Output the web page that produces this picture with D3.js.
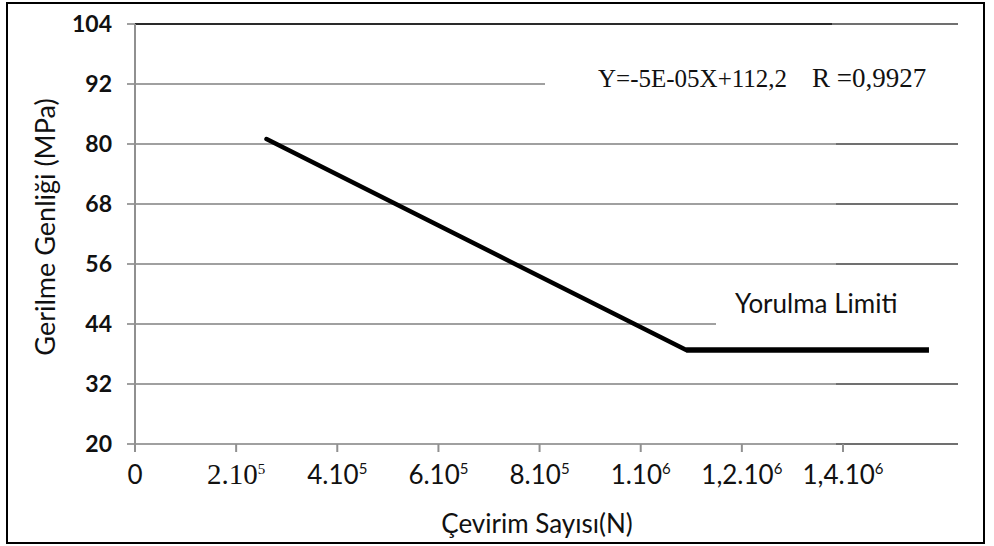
<!DOCTYPE html>
<html>
<head>
<meta charset="utf-8">
<script src="https://cdn.jsdelivr.net/npm/d3@7/dist/d3.min.js"></script>
<style>
body { margin: 0; background: #fff; }
</style>
</head>
<body>
<div id="chart"></div>
<script>
// values
var cycles = [260000, 1090000, 1570000]
var stress = [81, 38.8, 38.8]
var yTicks = [20, 32, 44, 56, 68, 80, 92, 104]
var xTicks = [0, 200000, 400000, 600000, 800000, 1000000, 1200000, 1400000]
var xTickBase = ["0", "2.10", "4.10", "6.10", "8.10", "1.10", "1,2.10", "1,4.10"]
var xTickExp = ["", "5", "5", "5", "5", "6", "6", "6"]
var equation = "Y=-5E-05X+112,2"
var rText = "R =0,9927"
var limitLabel = "Yorulma Limiti"
var xTitle = "Çevirim Sayısı(N)"
var yTitle = "Gerilme Genliği (MPa)"

var sans = "Lato, 'Open Sans', sans-serif"
var serif = "'Liberation Serif', 'DejaVu Serif', serif"

var svg = d3.select("#chart").append("svg").attr("width", 994).attr("height", 546)

var x = d3.scaleLinear().domain([0, 1400000]).range([135, 843])
var y = d3.scaleLinear().domain([20, 104]).range([444, 24])
var xEnd = 958

// gridlines
svg.append("g").selectAll("line").data(yTicks).enter().append("line")
    .attr("x1", 127).attr("x2", xEnd)
    .attr("y1", function (d) { return y(d) }).attr("y2", function (d) { return y(d) })
    .attr("stroke", "#a0a0a0").attr("stroke-width", 2)

// the right hand pieces of the grid are a bit darker
svg.append("g").selectAll("line").data(yTicks.slice(0, -1)).enter().append("line")
    .attr("x1", 836).attr("x2", xEnd)
    .attr("y1", function (d) { return y(d) }).attr("y2", function (d) { return y(d) })
    .attr("stroke", "#707070").attr("stroke-width", 2)
svg.append("line")
    .attr("x1", 135).attr("x2", 832).attr("y1", y(104)).attr("y2", y(104))
    .attr("stroke", "#2a2a2a").attr("stroke-width", 2)
svg.append("line")
    .attr("x1", 832).attr("x2", xEnd).attr("y1", y(104)).attr("y2", y(104))
    .attr("stroke", "#707070").attr("stroke-width", 2)

// y axis line
svg.append("line")
    .attr("x1", 135).attr("x2", 135).attr("y1", y(104)).attr("y2", y(20) + 8)
    .attr("stroke", "#909090").attr("stroke-width", 2)

// x ticks
svg.append("g").selectAll("line").data(xTicks).enter().append("line")
    .attr("x1", function (d) { return x(d) }).attr("x2", function (d) { return x(d) })
    .attr("y1", y(20)).attr("y2", y(20) + 8)
    .attr("stroke", "#909090").attr("stroke-width", 2)

// y tick labels
svg.append("g").selectAll("text").data(yTicks).enter().append("text")
    .attr("x", 112).attr("y", function (d) { return y(d) + 8 })
    .attr("text-anchor", "end")
    .style("font-family", sans).style("font-size", "23px").style("font-weight", "bold")
    .attr("fill", "#111")
    .text(function (d) { return d })

// x tick labels with exponents (the 2.10^5 one is set in a serif face in the original)
var xl = svg.append("g").selectAll("text").data(xTicks).enter().append("text")
    .attr("x", function (d) { return x(d) }).attr("y", 484)
    .attr("text-anchor", "middle")
    .style("font-family", function (d, i) { return xTickBase[i] == "2.10" ? serif : sans })
    .style("font-size", function (d, i) { return xTickBase[i] == "2.10" ? "29px" : "26px" })
    .attr("fill", "#111")
xl.append("tspan").text(function (d, i) { return xTickBase[i] })
xl.append("tspan").attr("dy", -10).style("font-size", "15px")
    .text(function (d, i) { return xTickExp[i] })

// white boxes that cut the grid behind the labels
svg.append("rect").attr("x", 545).attr("y", 70).attr("width", xEnd - 545 + 2).attr("height", 30).attr("fill", "#fff")
svg.append("rect").attr("x", 716).attr("y", 312).attr("width", xEnd - 716 + 2).attr("height", 24).attr("fill", "#fff")

// equation
svg.append("text").attr("x", 598).attr("y", 87)
    .style("font-family", serif).style("font-size", "25px").attr("fill", "#111")
    .text(equation)
svg.append("text").attr("x", 812).attr("y", 87)
    .style("font-family", serif).style("font-size", "27px").attr("fill", "#111")
    .text(rText)

// fatigue limit label
svg.append("text").attr("x", 735).attr("y", 313)
    .style("font-family", sans).style("font-size", "26px").attr("fill", "#111")
    .text(limitLabel)

// S-N line
var pts = cycles.map(function (c, i) { return [c, stress[i]] })
var line = d3.line().x(function (d) { return x(d[0]) }).y(function (d) { return y(d[1]) })
svg.append("path").datum(pts.slice(0, 2)).attr("d", line)
    .attr("fill", "none").attr("stroke", "#000").attr("stroke-width", 4.5).attr("stroke-linecap", "round")
svg.append("path").datum(pts.slice(1)).attr("d", line)
    .attr("fill", "none").attr("stroke", "#000").attr("stroke-width", 5.5)

// axis titles
svg.append("text").attr("x", 537).attr("y", 533).attr("text-anchor", "middle")
    .style("font-family", sans).style("font-size", "26px").attr("fill", "#111")
    .text(xTitle)
svg.append("text").attr("transform", "translate(55,227) rotate(-90)").attr("text-anchor", "middle")
    .style("font-family", sans).style("font-size", "27px").attr("fill", "#111")
    .text(yTitle)

// frame
svg.append("rect").attr("x", 7).attr("y", 3).attr("width", 977).attr("height", 540)
    .attr("fill", "none").attr("stroke", "#000").attr("stroke-width", 2)
</script>
</body>
</html>
